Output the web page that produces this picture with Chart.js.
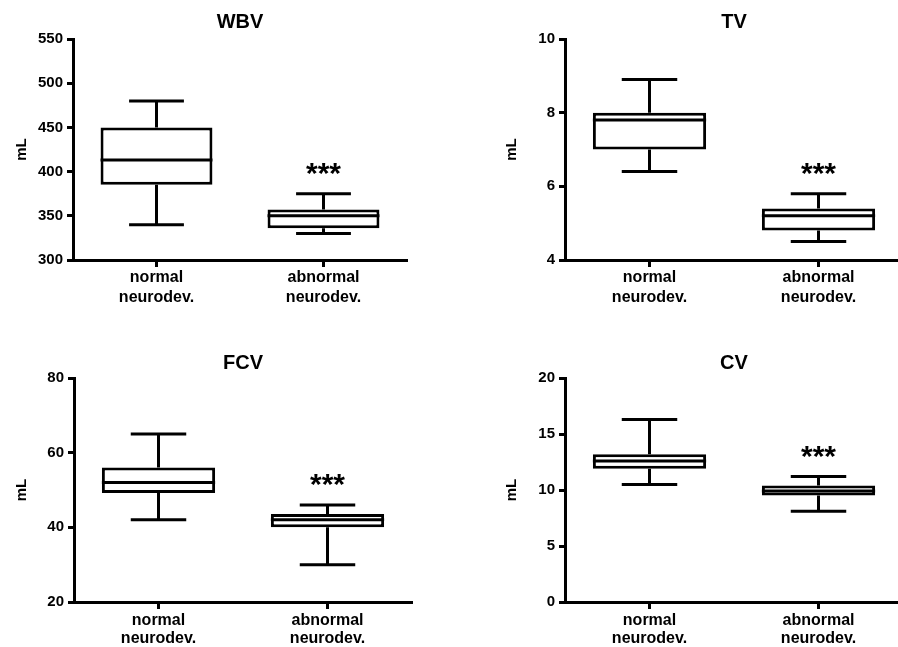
<!DOCTYPE html>
<html>
<head>
<meta charset="utf-8">
<script src="https://cdn.jsdelivr.net/npm/chart.js@4.4.1/dist/chart.umd.min.js"></script>
<style>
  html, body { margin: 0; padding: 0; background: #fff; overflow: hidden; }
  body { width: 898px; height: 647px; position: relative; }
  .panel { position: absolute; overflow: hidden; }
</style>
</head>
<body>
<div class="panel" style="left:0;top:0;width:449px;height:320px"><canvas id="wbv" width="449" height="320"></canvas></div>
<div class="panel" style="left:449px;top:0;width:449px;height:320px"><canvas id="tv" width="460" height="320"></canvas></div>
<div class="panel" style="left:0;top:320px;width:449px;height:327px"><canvas id="fcv" width="449" height="327"></canvas></div>
<div class="panel" style="left:449px;top:320px;width:449px;height:327px"><canvas id="cv" width="460" height="327"></canvas></div>
<script>
const groups = [["normal", "neurodev."], ["abnormal", "neurodev."]];
const marks = ["", "***"];

// whole brain volume
const wbvMin = [340, 330];
const wbvQ1 = [385, 336];
const wbvMed = [413, 350];
const wbvQ3 = [450, 357];
const wbvMax = [480, 375];

// thalamic volume
const tvMin = [6.4, 4.5];
const tvQ1 = [7.0, 4.8];
const tvMed = [7.8, 5.2];
const tvQ3 = [8.0, 5.4];
const tvMax = [8.9, 5.8];

// frontal cortex volume
const fcvMin = [42, 30];
const fcvQ1 = [49.2, 40];
const fcvMed = [52, 42];
const fcvQ3 = [56, 43.6];
const fcvMax = [65, 46];

// cerebellar volume
const cvMin = [10.5, 8.1];
const cvQ1 = [11.9, 9.5];
const cvMed = [12.6, 9.9];
const cvQ3 = [13.2, 10.4];
const cvMax = [16.3, 11.2];

const FONT = "'Liberation Sans', Arial, sans-serif";

// whiskers, caps, medians and significance stars on top of the floating bars
const whiskerPlugin = {
  id: "whiskers",
  afterDatasetsDraw(chart, args, opts) {
    const ctx = chart.ctx;
    const y = chart.scales.y;
    const meta = chart.getDatasetMeta(0);
    ctx.save();
    ctx.strokeStyle = "#000";
    ctx.lineWidth = 3;
    ctx.lineCap = "butt";
    meta.data.forEach((bar, i) => {
      const x = bar.x;
      const w = bar.width;
      const yMin = y.getPixelForValue(opts.min[i]);
      const yMax = y.getPixelForValue(opts.max[i]);
      const yQ1 = y.getPixelForValue(opts.q1[i]);
      const yQ3 = y.getPixelForValue(opts.q3[i]);
      const yMed = y.getPixelForValue(opts.med[i]);
      const cap = w * 0.245;
      ctx.beginPath();
      ctx.moveTo(x, yQ3);
      ctx.lineTo(x, yMax);
      ctx.moveTo(x - cap, yMax);
      ctx.lineTo(x + cap, yMax);
      ctx.moveTo(x, yQ1);
      ctx.lineTo(x, yMin);
      ctx.moveTo(x - cap, yMin);
      ctx.lineTo(x + cap, yMin);
      ctx.moveTo(x - w / 2, yMed);
      ctx.lineTo(x + w / 2, yMed);
      ctx.stroke();
      if (opts.marks[i]) {
        ctx.font = "bold 30px " + FONT;
        ctx.fillStyle = "#000";
        ctx.textAlign = "center";
        ctx.textBaseline = "alphabetic";
        const m = ctx.measureText(opts.marks[i]);
        const h = m.actualBoundingBoxAscent - m.actualBoundingBoxDescent;
        ctx.fillText(opts.marks[i], x, yMax - 25 + h / 2);
      }
    });
    ctx.restore();
  }
};

function boxChart(id, cfg) {
  new Chart(document.getElementById(id), {
    type: "bar",
    data: {
      labels: groups,
      datasets: [{
        data: cfg.q1.map((v, i) => [v, cfg.q3[i]]),
        backgroundColor: "#fff",
        borderColor: "#000",
        borderWidth: 3,
        borderSkipped: false,
        barPercentage: 0.67,
        categoryPercentage: 1
      }]
    },
    options: {
      responsive: false,
      animation: false,
      layout: { padding: { left: 0, right: cfg.right, top: 0, bottom: 0 } },
      plugins: {
        legend: { display: false },
        tooltip: { enabled: false },
        title: {
          display: true,
          text: cfg.title,
          fullSize: false,
          color: "#000",
          font: { family: FONT, size: 20, weight: "bold" },
          padding: { top: cfg.titleTop, bottom: cfg.titleBottom }
        },
        whiskers: {
          min: cfg.min, q1: cfg.q1, med: cfg.med, q3: cfg.q3, max: cfg.max, marks: marks
        }
      },
      scales: {
        x: {
          offset: true,
          grid: { offset: false, drawOnChartArea: false, color: "#000", tickLength: 7, tickWidth: 3 },
          border: { color: "#000", width: 3 },
          ticks: {
            color: "#000",
            padding: cfg.xPad,
            font: { family: FONT, size: 16, weight: "bold", lineHeight: cfg.xLine }
          },
          afterFit(s) { s.height = cfg.xHeight; }
        },
        y: {
          min: cfg.yMin,
          max: cfg.yMax,
          ticks: {
            stepSize: cfg.step,
            color: "#000",
            padding: 4,
            font: { family: FONT, size: 15, weight: "bold" }
          },
          grid: { drawOnChartArea: false, color: "#000", tickLength: 6, tickWidth: 3 },
          border: { color: "#000", width: 3 },
          title: {
            display: true,
            text: "mL",
            color: "#000",
            font: { family: FONT, size: 15, weight: "bold" },
            padding: { top: cfg.yTitleTop, bottom: 0 }
          },
          afterFit(s) { s.width = cfg.yWidth; }
        }
      }
    },
    plugins: [whiskerPlugin]
  });
}

boxChart("wbv", {
  title: "WBV", min: wbvMin, q1: wbvQ1, med: wbvMed, q3: wbvQ3, max: wbvMax,
  yMin: 300, yMax: 550, step: 50,
  yWidth: 73, yTitleTop: 13, right: 42, titleTop: 10, titleBottom: 5,
  xHeight: 60, xLine: "20px", xPad: 1
});
boxChart("tv", {
  title: "TV", min: tvMin, q1: tvQ1, med: tvMed, q3: tvQ3, max: tvMax,
  yMin: 4, yMax: 10, step: 2,
  yWidth: 116, yTitleTop: 54, right: 6, titleTop: 10, titleBottom: 5,
  xHeight: 60, xLine: "20px", xPad: 1
});
boxChart("fcv", {
  title: "FCV", min: fcvMin, q1: fcvQ1, med: fcvMed, q3: fcvQ3, max: fcvMax,
  yMin: 20, yMax: 80, step: 20,
  yWidth: 74, yTitleTop: 13, right: 37, titleTop: 31, titleBottom: 3,
  xHeight: 45, xLine: "17.5px", xPad: 3
});
boxChart("cv", {
  title: "CV", min: cvMin, q1: cvQ1, med: cvMed, q3: cvQ3, max: cvMax,
  yMin: 0, yMax: 20, step: 5,
  yWidth: 116, yTitleTop: 54, right: 6, titleTop: 31, titleBottom: 3,
  xHeight: 45, xLine: "17.5px", xPad: 3
});
</script>
</body>
</html>
